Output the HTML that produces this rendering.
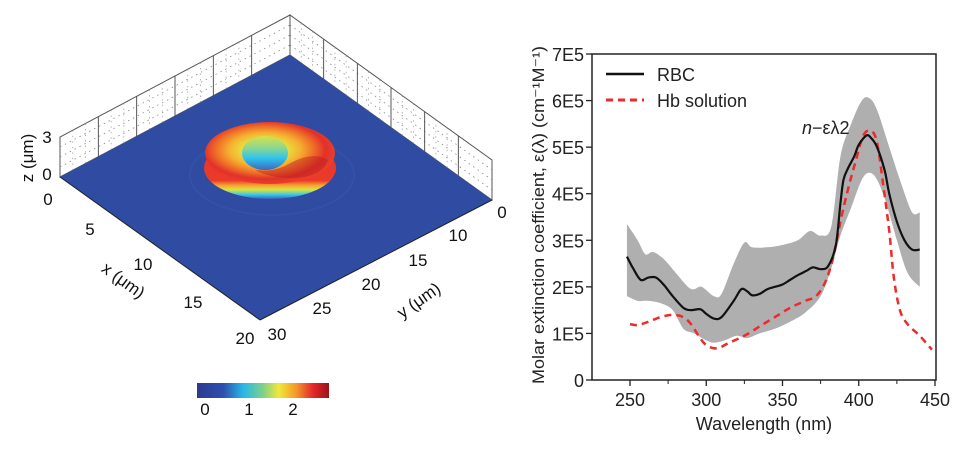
<!DOCTYPE html>
<html><head><meta charset="utf-8">
<style>
body{margin:0;background:#fff;width:966px;height:449px;overflow:hidden;font-family:"Liberation Sans",sans-serif;}
svg{position:absolute;left:0;top:0}
</style></head>
<body>
<svg id="s" width="966" height="449">
<defs>
<linearGradient id="cb" x1="0" x2="1" y1="0" y2="0">
<stop offset="0" stop-color="#2b3a8f"/><stop offset="0.2" stop-color="#2f4fb0"/><stop offset="0.35" stop-color="#27b8e8"/><stop offset="0.5" stop-color="#7fd08a"/><stop offset="0.62" stop-color="#f0e83a"/><stop offset="0.75" stop-color="#f39a2a"/><stop offset="0.88" stop-color="#e3262a"/><stop offset="1" stop-color="#9a1418"/>
</linearGradient>
<linearGradient id="side" x1="0" x2="0" y1="0" y2="1">
<stop offset="0" stop-color="#e8352a"/><stop offset="0.7" stop-color="#ea3a2a"/><stop offset="0.78" stop-color="#f7a330"/><stop offset="0.85" stop-color="#d9e63c"/><stop offset="0.93" stop-color="#3cc6e6"/><stop offset="1" stop-color="#3a60c0"/>
</linearGradient>
<radialGradient id="top" cx="0.46" cy="0.45" r="0.55">
<stop offset="0.3" stop-color="#e8e040"/><stop offset="0.5" stop-color="#f5b030"/><stop offset="0.68" stop-color="#f07028"/><stop offset="0.85" stop-color="#e2302a"/><stop offset="1" stop-color="#e8402a"/>
</radialGradient>
<linearGradient id="hole" x1="0" x2="0" y1="0" y2="1">
<stop offset="0" stop-color="#d8e048"/><stop offset="0.35" stop-color="#8cd890"/><stop offset="0.65" stop-color="#30c4ec"/><stop offset="1" stop-color="#3a68c4"/>
</linearGradient>
</defs>
<g id="left"></g>
<g id="right"></g>
</svg>
<script>
const NS="http://www.w3.org/2000/svg";
function mk(p,t,a,txt){const e=document.createElementNS(NS,t);for(const k in a)e.setAttribute(k,a[k]);if(txt!==undefined)e.textContent=txt;p.appendChild(e);return e;}
// ---------- left 3D plot ----------
const L=document.getElementById('left');
const cL=[60,177],cB=[260,320],cR=[492,200],cT=[290,55];const wh=40;
function wall(a,b,name){const g=mk(L,'g',{});
 mk(g,'polygon',{points:`${a[0]},${a[1]} ${a[0]},${a[1]-wh} ${b[0]},${b[1]-wh} ${b[0]},${b[1]}`,fill:'#fff',stroke:'#555','stroke-width':1});
 for(let i=1;i<4;i++){const f=i/4;mk(g,'line',{x1:a[0],y1:a[1]-wh*f,x2:b[0],y2:b[1]-wh*f,stroke:'#888','stroke-width':0.8,'stroke-dasharray':'1.5,4'});}
 for(let i=1;i<6;i++){const f=i/6;const x=a[0]+(b[0]-a[0])*f,y=a[1]+(b[1]-a[1])*f;mk(g,'line',{x1:x,y1:y,x2:x,y2:y-wh,stroke:'#444','stroke-width':0.9});
  for(let k=1;k<3;k++){const xx=a[0]+(b[0]-a[0])*(f-k/18);mk(g,'line',{x1:xx,y1:a[1]+(b[1]-a[1])*(f-k/18),x2:xx,y2:a[1]+(b[1]-a[1])*(f-k/18)-wh,stroke:'#999','stroke-width':0.7,'stroke-dasharray':'1.5,4'});}}
}
wall(cL,cT,'left-wall');wall(cT,cR,'right-wall');
let fl=mk(L,'polygon',{points:`${cL} ${cB} ${cR} ${cT}`,fill:'#2f4ba2'});

mk(L,'ellipse',{cx:272,cy:175,rx:82,ry:40,fill:'none',stroke:'#3a58b0','stroke-width':2,opacity:0.5});
// donut
const d=mk(L,'g',{});
mk(d,'ellipse',{cx:270,cy:168,rx:66,ry:31,fill:'url(#side)'});
mk(d,'ellipse',{cx:270,cy:153,rx:65,ry:31,fill:'url(#top)'});
mk(d,'ellipse',{cx:265,cy:153,rx:23,ry:17,fill:'url(#hole)'});
mk(d,'path',{d:'M285,166 Q312,150 328,160 Q322,178 290,178 Q270,178 255,170 Q272,172 285,166Z',fill:'#b81c20',opacity:0.45});
// axes
mk(L,'line',{x1:cL[0],y1:cL[1],x2:cB[0],y2:cB[1],stroke:'#222','stroke-width':1});
mk(L,'line',{x1:cB[0],y1:cB[1],x2:cR[0],y2:cR[1],stroke:'#222','stroke-width':1});
const xt=[['0',48,205],['5',90,235],['10',143,270],['15',193,308],['20',245,344]];
xt.forEach(t=>{const e=mk(L,'text',{x:t[1],y:t[2],'font-size':17,'text-anchor':'middle',fill:'#111'},t[0]);});
const yt=[['0',502,204],['10',458,227],['15',418,252],['20',371,276],['25',322,300],['30',277,326]];
yt.forEach(t=>{const e=mk(L,'text',{x:t[1],y:t[2]+14,'font-size':17,'text-anchor':'middle',fill:'#111'},t[0]);});
[['3',47,143],['0',47,180]].forEach(t=>{const e=mk(L,'text',{x:t[1],y:t[2],'font-size':17,'text-anchor':'middle',fill:'#111'},t[0]);});
let e;
e=mk(L,'text',{x:0,y:0,'font-size':17,'text-anchor':'middle',fill:'#111',transform:'translate(120,285) rotate(36)'},'x (μm)');
e=mk(L,'text',{x:0,y:0,'font-size':17,'text-anchor':'middle',fill:'#111',transform:'translate(422,305) rotate(-35)'},'y (μm)');
e=mk(L,'text',{x:0,y:0,'font-size':17,'text-anchor':'middle',fill:'#111',transform:'translate(33,158) rotate(-90)'},'z (μm)');
e=mk(L,'rect',{x:197,y:383,width:132,height:15,fill:'url(#cb)'});
[['0',205],['1',249],['2',293]].forEach(t=>{const q=mk(L,'text',{x:t[1],y:415,'font-size':17,'text-anchor':'middle',fill:'#111'},t[0]);});

// ---------- right chart ----------
const wl=[248,252,257,262,267,272,278,285,290,296,300,305,310,318,323,327,330,335,340,345,350,355,360,366,370,375,380,385,388,390,393,397,400,405,408,412,417,420,425,430,435,440];
const rbc=[2.65,2.4,2.15,2.2,2.2,2.05,1.8,1.55,1.5,1.52,1.42,1.32,1.35,1.7,1.95,1.9,1.82,1.85,1.95,2.0,2.05,2.15,2.25,2.35,2.42,2.38,2.45,2.9,3.8,4.3,4.55,4.8,5.05,5.25,5.2,5.0,4.5,4.0,3.4,3.0,2.8,2.8];
const upW=[248,255,260,265,272,280,288,292,297,305,310,318,325,330,340,350,360,368,375,382,388,395,402,407,412,420,428,435,440];
const upV=[3.35,3.0,2.7,2.75,2.6,2.3,2.0,1.95,2.0,1.8,1.85,2.5,2.95,2.85,2.85,2.9,3.0,3.2,3.1,3.3,4.8,5.5,6.0,6.05,5.8,5.0,4.2,3.6,3.6];
const loW=[248,255,262,270,278,285,292,300,305,312,320,327,335,345,355,365,375,382,388,395,402,407,412,418,425,432,440];
const loV=[1.8,1.7,1.7,1.65,1.5,1.1,1.0,0.85,0.8,0.85,0.95,0.9,1.0,1.1,1.25,1.45,1.8,2.4,3.1,3.7,4.3,4.45,4.3,3.8,3.0,2.3,2.0];
const hbW=[250,255,262,270,278,285,290,295,300,307,315,325,335,345,355,365,372,378,383,388,393,398,403,408,412,416,420,423,427,432,440,448];
const hbV=[1.2,1.18,1.25,1.35,1.4,1.35,1.2,0.95,0.75,0.68,0.8,0.95,1.15,1.35,1.55,1.7,1.8,2.1,2.6,3.4,4.1,4.7,5.25,5.35,5.1,4.2,3.2,2.2,1.5,1.2,0.95,0.65];
const xTicks=[250,300,350,400,450];
const yTicks=[0,1,2,3,4,5,6,7];
const yLabels=['0','1E5','2E5','3E5','4E5','5E5','6E5','7E5'];
const R=document.getElementById('right');
const X=v=>630+(v-250)*1.525, Y=v=>380-v*46.57;
function smooth(pts){let s='M'+pts[0][0]+','+pts[0][1];for(let i=0;i<pts.length-1;i++){const p0=pts[Math.max(0,i-1)],p1=pts[i],p2=pts[i+1],p3=pts[Math.min(pts.length-1,i+2)];
 s+=`C${p1[0]+(p2[0]-p0[0])/6},${p1[1]+(p2[1]-p0[1])/6} ${p2[0]-(p3[0]-p1[0])/6},${p2[1]-(p3[1]-p1[1])/6} ${p2[0]},${p2[1]}`;}return s;}
const up=upW.map((w,i)=>[X(w),Y(upV[i])]), lo=loW.map((w,i)=>[X(w),Y(loV[i])]).reverse();
const band=mk(R,'path',{d:smooth(up)+'L'+smooth(lo).slice(1)+'Z',fill:'#a6a6a6',opacity:0.9});

const hb=mk(R,'path',{d:smooth(hbW.map((w,i)=>[X(w),Y(hbV[i])])),fill:'none',stroke:'#ee2a2a','stroke-width':2.5,'stroke-dasharray':'7,5'});

const rl=mk(R,'path',{d:smooth(wl.map((w,i)=>[X(w),Y(rbc[i])])),fill:'none',stroke:'#111','stroke-width':2.2,'stroke-linejoin':'round'});

const fr=mk(R,'rect',{x:592,y:54,width:344,height:326,fill:'none',stroke:'#222','stroke-width':1.5});

xTicks.forEach(t=>{mk(R,'line',{x1:X(t),y1:380,x2:X(t),y2:386,stroke:'#222','stroke-width':1.3});
 const q=mk(R,'text',{x:X(t),y:406,'font-size':18,'text-anchor':'middle',fill:'#222'},t);});
for(let t=275;t<450;t+=50)mk(R,'line',{x1:X(t),y1:380,x2:X(t),y2:384,stroke:'#222','stroke-width':1});
yTicks.forEach((t,i)=>{mk(R,'line',{x1:586,y1:Y(t),x2:592,y2:Y(t),stroke:'#222','stroke-width':1.3});
 const q=mk(R,'text',{x:584,y:Y(t)+7,'font-size':18,'text-anchor':'end',fill:'#222'},yLabels[i]);});
e=mk(R,'text',{x:764,y:430,'font-size':18,'text-anchor':'middle',fill:'#222'},'Wavelength (nm)');
e=mk(R,'text',{x:0,y:0,'font-size':16.5,'text-anchor':'middle',fill:'#222',textLength:338,lengthAdjust:'spacingAndGlyphs',transform:'translate(544,215) rotate(-90)'},'Molar extinction coefficient, ε(λ) (cm⁻¹M⁻¹)');
mk(R,'line',{x1:606,y1:74,x2:644,y2:74,stroke:'#111','stroke-width':2.5});
e=mk(R,'text',{x:657,y:81,'font-size':18,fill:'#222'},'RBC');
mk(R,'line',{x1:606,y1:100,x2:644,y2:100,stroke:'#ee2a2a','stroke-width':3,'stroke-dasharray':'7,5'});
e=mk(R,'text',{x:657,y:107,'font-size':18,fill:'#222'},'Hb solution');
e=mk(R,'text',{x:802,y:134,'font-size':18,fill:'#222'});
mk(e,'tspan',{'font-style':'italic'},'n');mk(e,'tspan',{},'−ελ2');
</script>
</body></html>
